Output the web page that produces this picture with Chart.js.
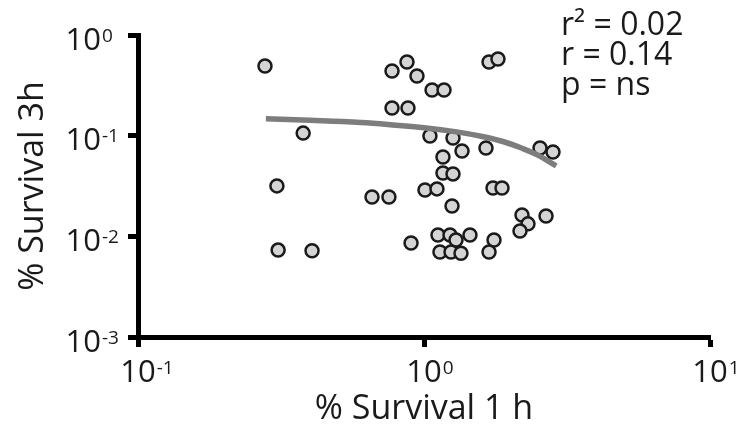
<!DOCTYPE html>
<html>
<head>
<meta charset="utf-8">
<script src="https://cdn.jsdelivr.net/npm/chart.js@4"></script>
<style>
  html, body { margin: 0; padding: 0; background: #ffffff; }
  #wrap { width: 749px; height: 430px; }
</style>
</head>
<body>
<div id="wrap"><canvas id="survivalChart"></canvas></div>
<script>
// % survival 1 h (x) vs 3 h (y)
const survival1h = [
    0.278, 0.378, 0.306, 0.309, 0.406, 0.773, 0.872, 0.945, 1.067, 1.175,
    0.773, 0.879, 1.688, 1.814, 1.049, 1.263, 1.358, 1.165, 1.647, 2.545,
    2.825, 1.165, 1.263, 1.008, 1.110, 0.658, 0.754, 1.253, 1.743, 1.874,
    2.201, 2.310, 2.166, 2.671, 0.901, 1.119, 1.233, 1.294, 1.448, 1.137,
    1.243, 1.347, 1.757, 1.688
];
const survival3h = [
    0.492, 0.106, 0.0317, 0.0073, 0.0072, 0.439, 0.539, 0.392, 0.284, 0.284,
    0.188, 0.188, 0.539, 0.578, 0.0993, 0.0949, 0.0705, 0.0614, 0.0755, 0.0755,
    0.0689, 0.0426, 0.0417, 0.0289, 0.0296, 0.0246, 0.0246, 0.0200, 0.0302, 0.0302,
    0.0163, 0.0133, 0.0113, 0.0159, 0.0086, 0.0103, 0.0103, 0.0092, 0.0103, 0.0070,
    0.0070, 0.0068, 0.0092, 0.0070
];

// regression curve as drawn
const fitX = [0.28, 0.4, 0.6, 0.8, 1.0, 1.3, 1.6, 1.9, 2.2, 2.5, 2.9];
const fitY = [0.147, 0.142, 0.135, 0.127, 0.12, 0.109, 0.098, 0.087, 0.075, 0.064, 0.05];

// ticks: base 10 with superscript exponent
const xTicks = [0.1, 1, 10];
const xTickExp = ['-1', '0', '1'];
const yTicks = [0.001, 0.01, 0.1, 1];
const yTickExp = ['-3', '-2', '-1', '0'];

const statsLines = ['r\u00B2 = 0.02', 'r = 0.14', 'p = ns'];

const FONT = "'Open Sans', 'DejaVu Sans', sans-serif";
const TEXT = '#1a1a1a';

// draws "10" + raised exponent at each tick of the log scales
const powerLabels = {
    id: 'powerLabels',
    afterDraw(chart) {
        const ctx = chart.ctx;
        const xs = chart.scales.x, ys = chart.scales.y;
        ctx.save();
        ctx.fillStyle = TEXT;
        ctx.textBaseline = 'alphabetic';

        yTicks.forEach((v, i) => {
            const py = ys.getPixelForValue(v);
            ctx.font = '31px ' + FONT;
            ctx.textAlign = 'right';
            ctx.fillText('10', 101, py + 14.5);
            ctx.font = '19px ' + FONT;
            ctx.textAlign = 'left';
            ctx.fillText(yTickExp[i], 102, py + 6.5);
        });

        xTicks.forEach((v, i) => {
            const px = xs.getPixelForValue(v);
            ctx.font = '31px ' + FONT;
            ctx.textAlign = 'center';
            ctx.fillText('10', px, 382);
            const w = ctx.measureText('10').width;
            ctx.font = '19px ' + FONT;
            ctx.textAlign = 'left';
            ctx.fillText(xTickExp[i], px + w / 2 + 1, 373.5);
        });

        ctx.font = '32px ' + FONT;
        ctx.textAlign = 'left';
        const baselines = [35, 65, 95];
        statsLines.forEach((t, i) => ctx.fillText(t, 561, baselines[i]));
        ctx.restore();
    }
};

const points = survival1h.map((x, i) => ({ x: x, y: survival3h[i] }));
const fitLine = fitX.map((x, i) => ({ x: x, y: fitY[i] }));

new Chart(document.getElementById('survivalChart'), {
    type: 'scatter',
    data: {
        datasets: [
            {
                label: 'fit',
                data: fitLine,
                showLine: true,
                borderColor: '#7d7d7d',
                borderWidth: 5.5,
                pointRadius: 0,
                tension: 0.4,
                fill: false
            },
            {
                label: 'samples',
                data: points,
                pointRadius: 6.5,
                pointBorderWidth: 2.5,
                backgroundColor: '#d4d4d4',
                borderColor: '#1a1a1a'
            }
        ]
    },
    options: {
        responsive: true,
        maintainAspectRatio: false,
        animation: false,
        layout: { padding: { top: 35, right: 39, left: 0, bottom: 0 } },
        scales: {
            x: {
                type: 'logarithmic',
                min: 0.1,
                max: 10,
                afterBuildTicks: (scale) => { scale.ticks = xTicks.map(v => ({ value: v })); },
                afterFit: (scale) => { scale.height = 93; },
                ticks: { display: false },
                grid: {
                    drawOnChartArea: false,
                    drawTicks: true,
                    tickLength: 10,
                    tickWidth: 5,
                    tickColor: '#000000'
                },
                border: { display: true, color: '#000000', width: 5 },
                title: {
                    display: true,
                    text: '% Survival 1 h',
                    color: TEXT,
                    font: { family: FONT, size: 34 },
                    padding: { top: 0, bottom: 0 }
                }
            },
            y: {
                type: 'logarithmic',
                min: 0.001,
                max: 1,
                afterBuildTicks: (scale) => { scale.ticks = yTicks.map(v => ({ value: v })); },
                afterFit: (scale) => { scale.width = 138; },
                ticks: { display: false },
                grid: {
                    drawOnChartArea: false,
                    drawTicks: true,
                    tickLength: 10,
                    tickWidth: 5,
                    tickColor: '#000000'
                },
                border: { display: true, color: '#000000', width: 5 },
                title: {
                    display: true,
                    text: '% Survival 3h',
                    color: TEXT,
                    font: { family: FONT, size: 34 },
                    padding: { top: 13, bottom: 0 }
                }
            }
        },
        plugins: {
            legend: { display: false },
            tooltip: { enabled: false }
        }
    },
    plugins: [powerLabels]
});
</script>
</body>
</html>
